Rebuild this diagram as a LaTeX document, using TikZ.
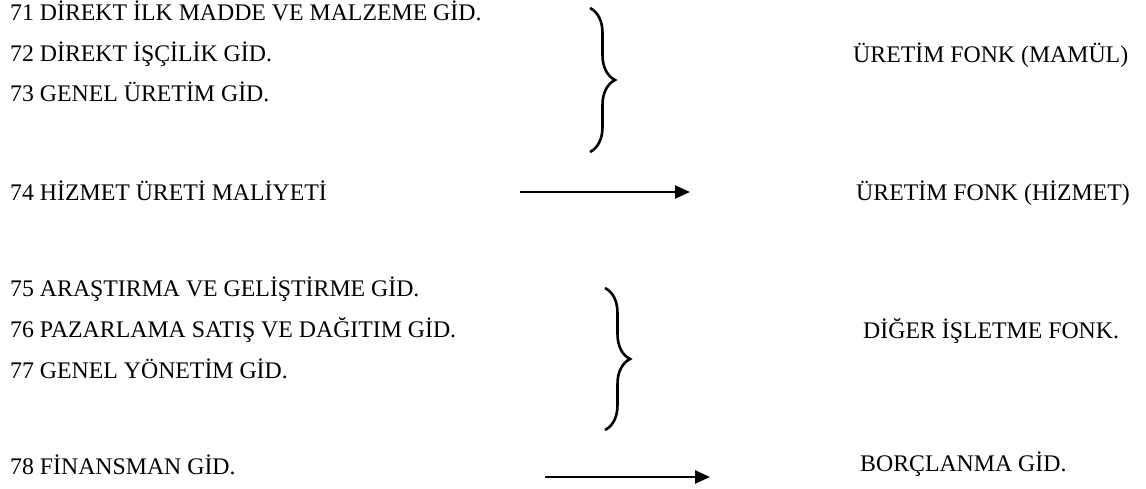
\documentclass[tikz,border=0pt]{standalone}
\usepackage{fontspec}
\setmainfont{Liberation Serif}
\usetikzlibrary{decorations.pathreplacing,arrows.meta}
\begin{document}
\begin{tikzpicture}[x=1pt,y=-1pt,
  lbl/.style={anchor=base west, inner sep=0pt, font=\fontsize{23.8}{28}\selectfont},
  bracestyle/.style={decorate, decoration={brace, amplitude=25pt}, line width=2.6pt},
  arr/.style={-{Triangle[length=15pt,width=13pt]}, line width=2.4pt}]
\useasboundingbox (0,0) rectangle (1146,489);
% left column
\node[lbl] (a71) at (10,21) {71 DİREKT İLK MADDE VE MALZEME GİD.};
\node[lbl] (a72) at (10,62) {72 DİREKT İŞÇİLİK GİD.};
\node[lbl] (a73) at (10,102) {73 GENEL ÜRETİM GİD.};
\node[lbl] (a74) at (10,201) {74 HİZMET ÜRETİ MALİYETİ};
\node[lbl] (a75) at (10,296) {75 ARAŞTIRMA VE GELİŞTİRME GİD.};
\node[lbl] (a76) at (10,337) {76 PAZARLAMA SATIŞ VE DAĞITIM GİD.};
\node[lbl] (a77) at (10,378) {77 GENEL YÖNETİM GİD.};
\node[lbl] (a78) at (10,474) {78 FİNANSMAN GİD.};
% right column
\node[lbl] (r1) at (853,63) {ÜRETİM FONK (MAMÜL)};
\node[lbl] (r2) at (856,201) {ÜRETİM FONK (HİZMET)};
\node[lbl] (r3) at (863,338) {DİĞER İŞLETME FONK.};
\node[lbl] (r4) at (860,471) {BORÇLANMA GİD.};
% braces
\coordinate (b1s) at (590,8);
\coordinate (b1e) at (590,152);
\coordinate (b2s) at (605,288);
\coordinate (b2e) at (605,430);
\draw[bracestyle] (b1s) -- (b1e);
\draw[bracestyle] (b2s) -- (b2e);
% arrows
\coordinate (p1s) at (520,192);
\coordinate (p1e) at (690,192);
\coordinate (p2s) at (545,477);
\coordinate (p2e) at (710,477);
\draw[arr] (p1s) -- (p1e);
\draw[arr] (p2s) -- (p2e);
\end{tikzpicture}
\end{document}
